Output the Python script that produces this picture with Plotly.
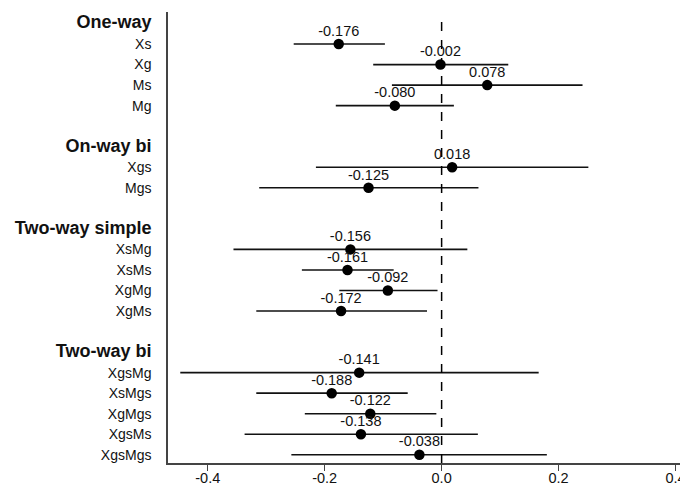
import plotly.graph_objects as go

groups = ["One-way", "On-way bi", "Two-way simple", "Two-way bi"]
group_items = [
    ["Xs", "Xg", "Ms", "Mg"],
    ["Xgs", "Mgs"],
    ["XsMg", "XsMs", "XgMg", "XgMs"],
    ["XgsMg", "XsMgs", "XgMgs", "XgsMs", "XgsMgs"],
]
estimates = [-0.176, -0.002, 0.078, -0.080,
             0.018, -0.125,
             -0.156, -0.161, -0.092, -0.172,
             -0.141, -0.188, -0.122, -0.138, -0.038]
lower = [-0.253, -0.117, -0.085, -0.181,
         -0.215, -0.312,
         -0.356, -0.239, -0.175, -0.317,
         -0.447, -0.317, -0.234, -0.337, -0.257]
upper = [-0.097, 0.114, 0.241, 0.021,
         0.251, 0.063,
         0.044, -0.082, -0.007, -0.025,
         0.166, -0.058, -0.009, 0.062, 0.180]
x_ticks = [-0.4, -0.2, 0.0, 0.2, 0.4]

# build row layout: header row, item rows, blank row between groups
tickvals, ticktext, item_rows = [], [], []
row = 0
for g, items in zip(groups, group_items):
    tickvals.append(row)
    ticktext.append(f"<b><span style='font-size:18px'>{g}</span></b>")
    row += 1
    for it in items:
        tickvals.append(row)
        ticktext.append(it)
        item_rows.append(row)
        row += 1
    row += 1
last_row = item_rows[-1]

err_plus = [u - e for u, e in zip(upper, estimates)]
err_minus = [e - l for e, l in zip(estimates, lower)]

fig = go.Figure()
fig.add_trace(go.Scatter(
    x=estimates, y=item_rows, mode="markers",
    marker=dict(color="black", size=10.5),
    error_x=dict(type="data", symmetric=False, array=err_plus, arrayminus=err_minus,
                 width=0, thickness=1.6, color="#111"),
    showlegend=False, cliponaxis=False,
))
# value labels just above each point
fig.add_trace(go.Scatter(
    x=estimates, y=[r - 0.58 for r in item_rows], mode="text",
    text=[f"{v:.3f}" for v in estimates],
    textposition="middle center",
    textfont=dict(size=14.5, color="#111"),
    showlegend=False, cliponaxis=False, hoverinfo="skip",
))

fig.add_shape(type="line", x0=0, x1=0, xref="x", yref="paper", y0=0, y1=0.99,
              line=dict(color="black", width=1.5, dash="dash"))

# page body has an 8px margin, so the figure is offset by 8px
fig.update_layout(
    width=680, height=478,
    margin=dict(l=160, r=2, t=4, b=23),
    plot_bgcolor="white", paper_bgcolor="white",
    font=dict(family="Liberation Sans, Arial, sans-serif", size=14, color="#111"),
    xaxis=dict(range=[-0.468, 0.418], tickvals=x_ticks,
               ticktext=[f"{v:.1f}" for v in x_ticks],
               showgrid=False, zeroline=False, showline=True, linecolor="#444", linewidth=1.5,
               ticks="outside", ticklen=6, tickcolor="#444", tickwidth=1.2,
               ticklabelstandoff=-5,
               tickfont=dict(size=14.5), automargin=False),
    yaxis=dict(range=[last_row + 0.4, -0.56], tickvals=tickvals, ticktext=ticktext,
               showgrid=False, zeroline=False, showline=True, linecolor="#444", linewidth=1.5,
               ticks="", ticklabelstandoff=12, tickfont=dict(size=14), automargin=False),
)

fig.write_html("out.html")
